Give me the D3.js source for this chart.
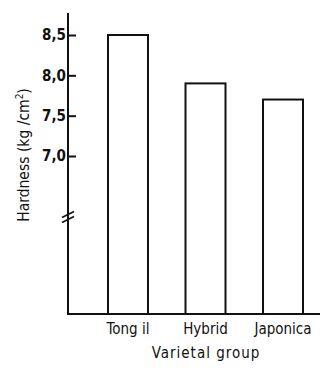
<!DOCTYPE html>
<html>
<head>
<meta charset="utf-8">
<script src="https://d3js.org/d3.v7.min.js"></script>
<style>
  body { margin: 0; background: #fff; }
  svg text { font-family: "DejaVu Sans Condensed", "DejaVu Sans", sans-serif; fill: #111; }
</style>
</head>
<body>
<div id="chart"></div>
<script>
// data
const groups = ["Tong il", "Hybrid", "Japonica"];
const hardness = [8.5, 7.9, 7.7];
const yTicks = [7.0, 7.5, 8.0, 8.5];

const width = 323, height = 370;
const axisX = 68, baseY = 314, axisTop = 13, axisRight = 320;
const breakY = 217;

const svg = d3.select("#chart").append("svg")
    .attr("width", width)
    .attr("height", height);

// y scale only meaningful above the axis break
const y = d3.scaleLinear()
    .domain([7.0, 8.5])
    .range([156, 35]);

const x = d3.scaleBand()
    .domain(groups)
    .range([axisX, 343])
    .paddingInner(0.484)
    .paddingOuter(0.516);

// bars (open rectangles)
svg.append("g")
    .attr("fill", "none")
    .attr("stroke", "#111")
    .attr("stroke-width", 2)
  .selectAll("rect")
  .data(groups)
  .join("rect")
    .attr("x", d => x(d))
    .attr("y", (d, i) => y(hardness[i]))
    .attr("width", x.bandwidth())
    .attr("height", (d, i) => baseY - y(hardness[i]));

// y axis, ticks pointing inward
const yAxis = svg.append("g")
    .attr("transform", `translate(${axisX},0)`)
    .call(d3.axisLeft(y)
        .tickValues(yTicks)
        .tickSize(-8)
        .tickPadding(2)
        .tickFormat(d => d3.format(".1f")(d).replace(".", ",")));
yAxis.select(".domain").remove();
yAxis.selectAll(".tick line").attr("stroke", "#111").attr("stroke-width", 2);
yAxis.selectAll(".tick text")
    .attr("font-size", 15)
    .attr("font-weight", "bold")
    .attr("font-family", "DejaVu Sans Condensed, DejaVu Sans, sans-serif")
    .attr("fill", "#111");

// axis lines
svg.append("line")
    .attr("x1", axisX).attr("x2", axisX)
    .attr("y1", axisTop).attr("y2", baseY + 1)
    .attr("stroke", "#111").attr("stroke-width", 2);
svg.append("line")
    .attr("x1", axisX - 1).attr("x2", axisRight)
    .attr("y1", baseY).attr("y2", baseY)
    .attr("stroke", "#111").attr("stroke-width", 2);

// axis break mark
svg.append("g")
    .attr("stroke", "#111").attr("stroke-width", 1.6)
  .selectAll("line")
  .data([-2.5, 2.5])
  .join("line")
    .attr("x1", axisX - 6).attr("x2", axisX + 6)
    .attr("y1", d => breakY + d + 3).attr("y2", d => breakY + d - 3);

// x axis labels
const xAxis = svg.append("g")
    .attr("transform", `translate(0,${baseY})`)
    .call(d3.axisBottom(x).tickSize(0).tickPadding(9));
xAxis.select(".domain").remove();
xAxis.selectAll(".tick text")
    .attr("font-size", 15)
    .attr("font-family", "DejaVu Sans Condensed, DejaVu Sans, sans-serif")
    .attr("fill", "#111");

// axis titles
svg.append("text")
    .attr("x", 206)
    .attr("y", 358)
    .attr("text-anchor", "middle")
    .attr("font-size", 15)
    .attr("letter-spacing", 1)
    .text("Varietal group");

svg.append("text")
    .attr("transform", "translate(29,155) rotate(-90)")
    .attr("text-anchor", "middle")
    .attr("font-size", 15.5)
    .html("Hardness (kg /cm<tspan dy='-6' font-size='10'>2</tspan><tspan dy='6'>)</tspan>");
</script>
</body>
</html>
